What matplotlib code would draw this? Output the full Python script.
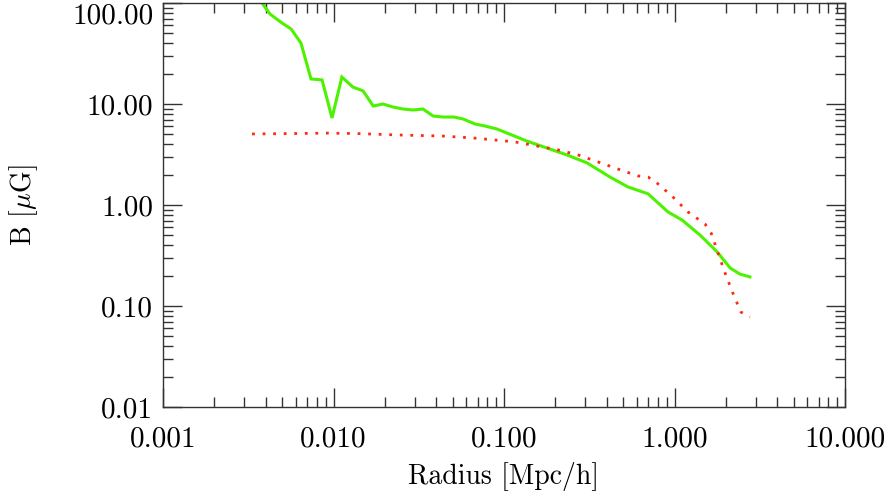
import numpy as np
import matplotlib
matplotlib.use("Agg")
import matplotlib.pyplot as plt

plt.rcParams['font.family'] = ['cmr10', 'DejaVu Serif']
plt.rcParams['mathtext.fontset'] = 'cm'
plt.rcParams['axes.unicode_minus'] = False

# green solid profile
r_green = [0.00381, 0.00424, 0.00499, 0.00564, 0.00644, 0.00738, 0.00857, 0.00980,
           0.0112, 0.0130, 0.0149, 0.0171, 0.0195, 0.0223, 0.0256, 0.0292, 0.0335,
           0.0384, 0.0439, 0.0509, 0.0576, 0.0676, 0.0775, 0.0910, 0.104, 0.136,
           0.179, 0.234, 0.307, 0.419, 0.533, 0.700, 0.916, 1.107, 1.41, 1.78,
           2.12, 2.42, 2.77]
b_green = [100.0, 77.8, 63.4, 55.3, 40.2, 17.7, 17.3, 7.27,
           18.5, 14.7, 13.5, 9.55, 10.0, 9.34, 8.92, 8.72, 8.92,
           7.60, 7.43, 7.43, 7.10, 6.34, 6.05, 5.65, 5.16, 4.30,
           3.66, 3.13, 2.61, 1.89, 1.51, 1.29, 0.853, 0.710, 0.505, 0.343,
           0.238, 0.207, 0.194]

# red dotted profile
r_red = [0.00333, 0.00586, 0.00903, 0.0137, 0.0245, 0.0432, 0.0658, 0.0885, 0.117,
         0.156, 0.208, 0.272, 0.356, 0.466, 0.611, 0.700, 0.789, 0.979, 1.20, 1.51,
         1.64, 1.80, 1.98, 2.20, 2.45, 2.77]
b_red = [5.05, 5.10, 5.15, 5.10, 4.93, 4.82, 4.61, 4.40, 4.20,
         3.84, 3.51, 3.13, 2.67, 2.27, 1.94, 1.89, 1.65, 1.20, 0.853, 0.649,
         0.528, 0.335, 0.212, 0.134, 0.0872, 0.0778]

xticks = [0.001, 0.01, 0.1, 1.0, 10.0]
xlabels = ['0.001', '0.010', '0.100', '1.000', '10.000']
yticks = [0.01, 0.1, 1.0, 10.0, 100.0]
ylabels = ['0.01', '0.10', '1.00', '10.00', '100.00']

fig = plt.figure(figsize=(8.93, 4.98), dpi=100)
ax = fig.add_axes([163/893, 91/498, (845-163)/893, (407-3)/498])

ax.plot(r_green, b_green, color='#4df200', lw=2.2, solid_joinstyle='miter')
ax.plot(r_red, b_red, color='#ff2a10', lw=2.0, linestyle=(0, (1, 2.8)))

ax.set_xscale('log')
ax.set_yscale('log')
ax.set_xlim(0.001, 10)
ax.set_ylim(0.01, 100)

ax.set_xticks(xticks, xlabels)
ax.set_yticks(yticks, ylabels)
ax.tick_params(which='both', direction='in', top=True, right=True, labelsize=21,
               color='#333333', width=1)
ax.tick_params(which='major', length=14)
ax.tick_params(which='minor', length=7)
ax.tick_params(axis='x', which='major', pad=14)
ax.tick_params(axis='y', which='major', pad=7)
for s in ax.spines.values():
    s.set_linewidth(1)
    s.set_color('#333333')

ax.get_yticklabels()[-1].set_va('top')

ax.set_xlabel('Radius [Mpc/h]', fontsize=20)
ax.set_ylabel(r'B [$\mu$G]', fontsize=20)
ax.xaxis.set_label_coords(0.5, -0.135)
ax.yaxis.set_label_coords(-0.18, 0.5)

fig.savefig('out.png', dpi=100)
